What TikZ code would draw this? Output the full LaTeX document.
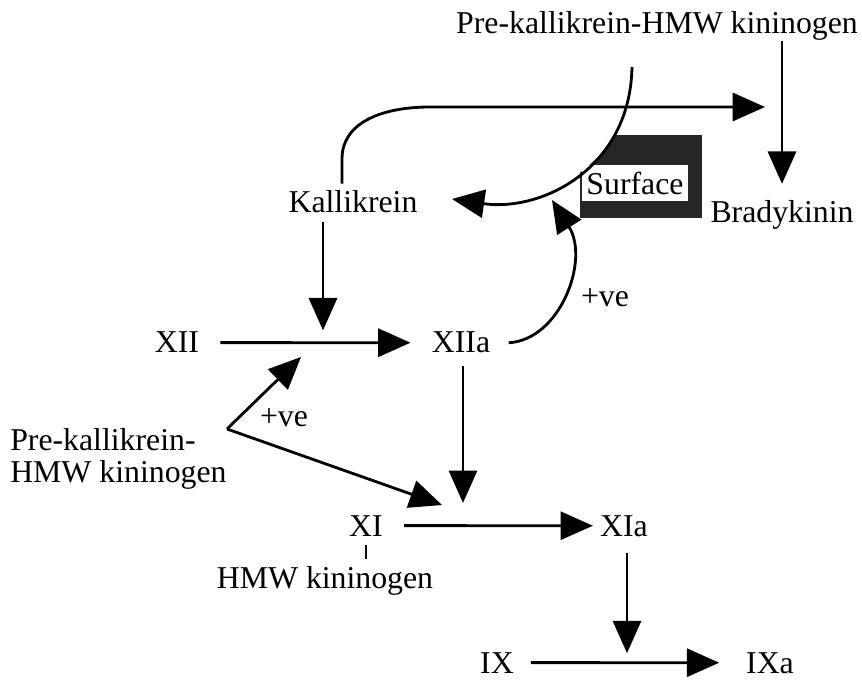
\documentclass[tikz,border=0pt]{standalone}
\usepackage{fontspec}
\setmainfont{Liberation Serif}
\usetikzlibrary{arrows.meta}
\definecolor{surfdark}{HTML}{262626}

\begin{document}
\begin{tikzpicture}[x=0.025cm,y=-0.025cm,
  font=\fontsize{22.6}{23}\selectfont,
  lbl/.style={inner sep=0pt,anchor=base},
  arr/.style={line width=2pt,-{Triangle[length=23pt,width=20pt]}}]
  \useasboundingbox (0,0) rectangle (862,688);
  % labels
  \node[lbl] (top) at (657,34) {Pre-kallikrein-HMW kininogen};
  \node[lbl] (brady) at (782,223) {Bradykinin};
  \node[lbl] (kal) at (353,213) {Kallikrein};
  \node[lbl] (xii) at (177,353) {XII};
  \node[lbl] (xiia) at (461,353) {XIIa};
  \node[inner sep=0pt,anchor=west,align=left] (pkl) at (10,459)
    {Pre-kallikrein-\\HMW kininogen};
  \node[lbl] (xi) at (366,536) {XI};
  \node[lbl] (hmw) at (325,588) {HMW kininogen};
  \node[lbl] (xia) at (624,536) {XIa};
  \node[lbl] (ix) at (497,673) {IX};
  \node[lbl] (ixa) at (770,673) {IXa};
  \node[lbl] (pve1) at (284,427) {+ve};
  \node[lbl] (pve2) at (605,307) {+ve};
  % free ends
  \coordinate (kalend) at (765,107);
  \coordinate (pktop) at (632,67);
  \coordinate (pkend) at (452,199);
  \coordinate (sfin) at (552,200);
  \coordinate (jn) at (227,429);
  \coordinate (jnup) at (301,357);
  \coordinate (jndown) at (442,505);
  \coordinate (xiimid) at (323,343);
  \coordinate (ximid) at (463,524);
  \coordinate (ixmid) at (627,663);
  % surface
  \begin{scope}
    \clip (pktop) .. controls (630,170) and (540,212) .. (pkend)
      -- (452,240) -- (720,240) -- (720,60) -- cycle;
    \fill[surfdark] (580,135) rectangle (702,218);
  \end{scope}
  \node[fill=white,inner sep=0pt,minimum width=75pt,minimum height=26pt]
    (surf) at (635,183) {Surface};
  % kallikrein loop
  \draw[arr,shorten <=6pt,shorten >=9pt] (kal.south -| xiimid) -- (xiimid);
  \draw[arr] ([xshift=-7.8pt,yshift=5pt]kal.north) -- ++(0,-25)
    .. controls +(0,-35) and (380,107) .. (430,107) -- (kalend);
  \draw[arr] (pktop) .. controls (630,170) and (540,212) .. (pkend);
  \draw[arr,shorten >=12pt] (top.south -| brady) -- (brady.north);
  \draw[arr] ([xshift=13pt]xiia.east) .. controls (560,340) and (590,260) .. (sfin);
  % cascade
  \draw[arr,shorten <=15pt,shorten >=15pt] (xii) -- (xiia);
  \draw[arr] (jn) -- (jnup);
  \draw[arr] (jn) -- (jndown);
  \draw[arr,shorten <=8.5pt,shorten >=15pt] (xiia.south -| ximid) -- (ximid);
  \draw[line width=1.6pt] ([yshift=-6pt]xi.south) -- ([yshift=5pt]xi.south |- hmw.north);
  \draw[arr,shorten <=15pt,shorten >=5pt] (xi) -- (xia);
  \draw[arr,shorten <=12pt,shorten >=7pt] (xia.south -| ixmid) -- (ixmid);
  \draw[arr,shorten <=12pt,shorten >=19pt] (ix) -- (ixa);
\end{tikzpicture}
\end{document}
